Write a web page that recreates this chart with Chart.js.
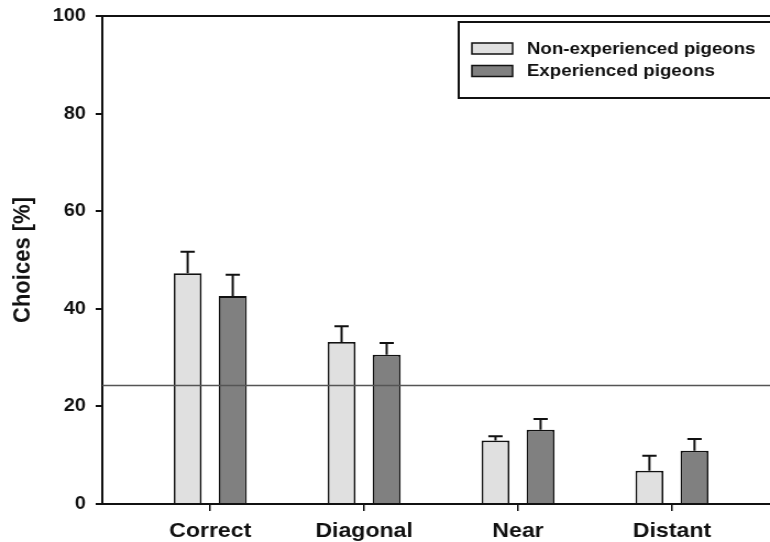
<!DOCTYPE html>
<html>
<head>
<meta charset="utf-8">
<script src="https://cdn.jsdelivr.net/npm/chart.js@4/dist/chart.umd.min.js"></script>
<style>
  html, body { margin: 0; padding: 0; background: #fff; overflow: hidden; }
  #wrap { width: 700px; height: 542px; transform: scaleX(1.1); transform-origin: 0 0; }
</style>
</head>
<body>
<div id="wrap"><canvas id="c" width="700" height="542"></canvas></div>
<script>
// Choice categories and group means / SEM (percent of choices)
const categories = ['Correct', 'Diagonal', 'Near', 'Distant'];
const seriesNames = ['Non-experienced pigeons', 'Experienced pigeons'];
const nonExperienced = [47.3, 33.2, 13.0, 6.8];
const nonExperiencedErr = [4.4, 3.2, 0.9, 3.1];
const experienced = [42.6, 30.6, 15.2, 10.9];
const experiencedErr = [4.4, 2.4, 2.2, 2.4];
const chanceLevel = 24.3;
const yTicks = [0, 20, 40, 60, 80, 100];

const FONT = "'Liberation Sans', Arial, sans-serif";
const INK = '#111';

const toPoints = vals => vals.map((v, i) => ({ x: i + 1, y: v }));

// Upward-only error bars with caps
const errorBars = {
  id: 'errorBars',
  afterDatasetsDraw(chart) {
    const ctx = chart.ctx;
    const y = chart.scales.y;
    ctx.save();
    ctx.strokeStyle = INK;
    ctx.lineWidth = 2;
    chart.data.datasets.forEach((ds, di) => {
      const meta = chart.getDatasetMeta(di);
      meta.data.forEach((bar, i) => {
        const top = y.getPixelForValue(ds.data[i].y + ds.errors[i]);
        ctx.beginPath();
        ctx.moveTo(bar.x, bar.y);
        ctx.lineTo(bar.x, top);
        ctx.moveTo(bar.x - 6.5, top);
        ctx.lineTo(bar.x + 6.5, top);
        ctx.stroke();
      });
    });
    ctx.restore();
  }
};

// Chance-level reference line and top frame
const frame = {
  id: 'frame',
  afterDatasetsDraw(chart) {
    const { ctx, chartArea } = chart;
    const yy = chart.scales.y.getPixelForValue(chanceLevel);
    ctx.save();
    ctx.strokeStyle = '#555';
    ctx.lineWidth = 1.5;
    ctx.beginPath();
    ctx.moveTo(chartArea.left, yy);
    ctx.lineTo(chartArea.right, yy);
    ctx.stroke();
    ctx.strokeStyle = INK;
    ctx.lineWidth = 2;
    ctx.beginPath();
    ctx.moveTo(chartArea.left, chartArea.top);
    ctx.lineTo(chartArea.right + 2, chartArea.top);
    ctx.stroke();
    ctx.restore();
  }
};

// Boxed legend in the upper right corner
const boxLegend = {
  id: 'boxLegend',
  afterDraw(chart) {
    const ctx = chart.ctx;
    ctx.save();
    ctx.fillStyle = '#fff';
    ctx.fillRect(417, 22, 290, 76);
    ctx.strokeStyle = INK;
    ctx.lineWidth = 2;
    ctx.strokeRect(417, 22, 290, 76);
    chart.data.datasets.forEach((ds, i) => {
      const top = 43 + i * 22.5;
      ctx.fillStyle = ds.backgroundColor;
      ctx.fillRect(429, top, 37, 11);
      ctx.lineWidth = 1.5;
      ctx.strokeStyle = INK;
      ctx.strokeRect(429, top, 37, 11);
      ctx.fillStyle = INK;
      ctx.font = `bold 17px ${FONT}`;
      ctx.textBaseline = 'middle';
      ctx.textAlign = 'left';
      ctx.fillText(ds.label, 479, top + 6);
    });
    ctx.restore();
  }
};

new Chart(document.getElementById('c'), {
  type: 'bar',
  data: {
    datasets: [
      {
        label: seriesNames[0],
        data: toPoints(nonExperienced),
        errors: nonExperiencedErr,
        backgroundColor: '#e0e0e0',
        borderColor: INK,
        borderWidth: 1.8
      },
      {
        label: seriesNames[1],
        data: toPoints(experienced),
        errors: experiencedErr,
        backgroundColor: '#808080',
        borderColor: INK,
        borderWidth: 1.8
      }
    ]
  },
  options: {
    responsive: false,
    animation: false,
    devicePixelRatio: 1,
    categoryPercentage: 0.586,
    barPercentage: 0.62,
    layout: { padding: { top: 16, right: 0, left: 0, bottom: 0 } },
    plugins: { legend: { display: false }, tooltip: { enabled: false } },
    scales: {
      x: {
        type: 'linear',
        min: 0.299,
        max: 4.637,
        offset: false,
        afterBuildTicks: s => { s.ticks = categories.map((c, i) => ({ value: i + 1 })); },
        afterFit: s => { s.height = 38; s.paddingLeft = 0; s.paddingRight = 0; },
        grid: { offset: false, drawOnChartArea: false, drawTicks: true, tickLength: 7, color: INK, lineWidth: 1.5 },
        border: { display: true, color: INK, width: 2 },
        ticks: {
          autoSkip: false,
          maxRotation: 0,
          padding: 8,
          color: INK,
          font: { family: FONT, size: 21, weight: 'bold' },
          callback: v => categories[v - 1] ?? ''
        }
      },
      y: {
        min: 0,
        max: 100,
        afterBuildTicks: s => { s.ticks = yTicks.map(v => ({ value: v })); },
        afterFit: s => { s.width = 93; s.paddingTop = 0; s.paddingBottom = 0; },
        grid: { drawOnChartArea: false, drawTicks: true, tickLength: 6, color: INK, lineWidth: 2 },
        border: { display: true, color: INK, width: 2 },
        ticks: {
          padding: 9,
          color: INK,
          font: { family: FONT, size: 18, weight: 'bold' }
        },
        title: {
          display: true,
          text: 'Choices [%]',
          color: INK,
          font: { family: FONT, size: 22, weight: 'bold' },
          padding: { top: 8, bottom: 0 }
        }
      }
    }
  },
  plugins: [errorBars, frame, boxLegend]
});
</script>
</body>
</html>
